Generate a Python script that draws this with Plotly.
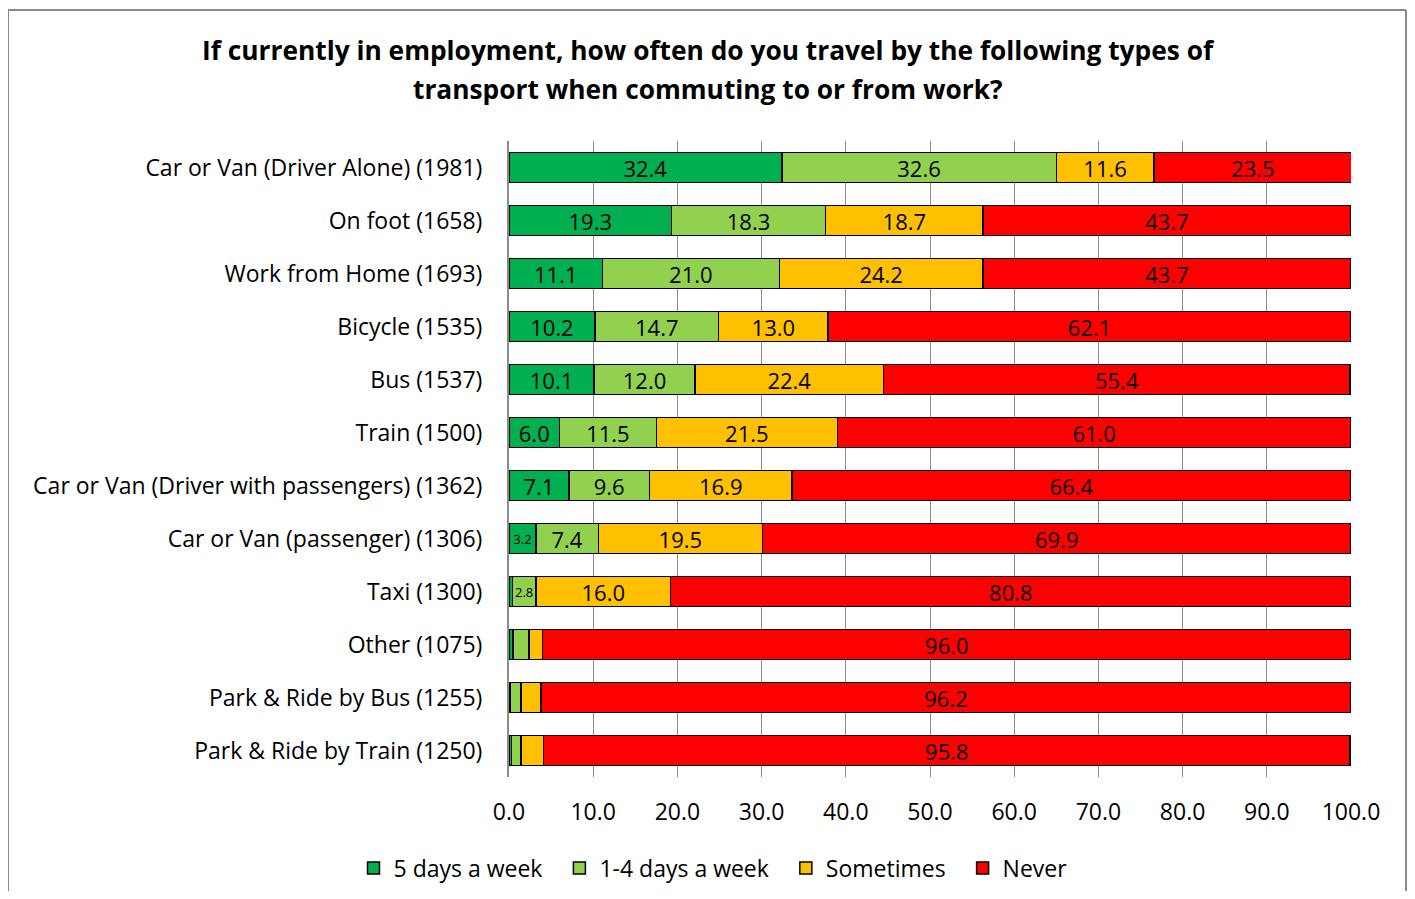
import plotly.graph_objects as go

categories = ["Car or Van (Driver Alone) (1981)", "On foot (1658)", "Work from Home (1693)",
              "Bicycle (1535)", "Bus (1537)", "Train (1500)",
              "Car or Van (Driver with passengers) (1362)", "Car or Van (passenger) (1306)",
              "Taxi (1300)", "Other (1075)", "Park & Ride by Bus (1255)", "Park & Ride by Train (1250)"]
five_days = [32.4, 19.3, 11.1, 10.2, 10.1, 6.0, 7.1, 3.2, 0.4, 0.5, 0.2, 0.3]
one_four_days = [32.6, 18.3, 21.0, 14.7, 12.0, 11.5, 9.6, 7.4, 2.8, 1.9, 1.2, 1.1]
sometimes = [11.6, 18.7, 24.2, 13.0, 22.4, 21.5, 16.9, 19.5, 16.0, 1.6, 2.4, 2.7]
never = [23.5, 43.7, 43.7, 62.1, 55.4, 61.0, 66.4, 69.9, 80.8, 96.0, 96.2, 95.8]
x_ticks = [0, 10, 20, 30, 40, 50, 60, 70, 80, 90, 100]

NB = "\u00a0"
series = [("5 days a week" + NB * 2, five_days, "#00B050"),
          ("1-4 days a week" + NB * 2, one_four_days, "#92D050"),
          ("Sometimes" + NB * 2, sometimes, "#FFC000"),
          ("Never", never, "#FF0000")]

FONT = "Open Sans"
# figure kept inside viewport (page body has 8px margin)
W, H = 1399, 883
# plot area in figure pixels
L, R, T, B = 501, 1343, 133, 769


def px(fx):
    return (fx - L) / (R - L)


def py(fy):
    return (B - fy) / (B - T)


fig = go.Figure()
for name, vals, col in series:
    texts = [f"{v:.1f}" if v >= 2.8 else "" for v in vals]
    sizes = [13 if v < 5 else 22 for v in vals]
    fig.add_trace(go.Bar(
        y=categories, x=vals, name=name, orientation="h",
        marker=dict(color=col, line=dict(color="black", width=1.5)),
        text=texts, texttemplate="%{text}", textposition="inside",
        insidetextanchor="middle", textangle=0, constraintext="none",
        textfont=dict(family=FONT, size=sizes, color="black"),
        hoverinfo="x+y+name",
    ))

fig.update_layout(
    barmode="stack", bargap=0.43,
    width=W, height=H,
    margin=dict(l=L, r=W - R, t=T, b=H - B, autoexpand=False),
    paper_bgcolor="white", plot_bgcolor="white",
    font=dict(family=FONT, size=20, color="black"),
    showlegend=True,
    legend=dict(orientation="h", x=px(705), xanchor="center", y=py(860), yanchor="middle",
                traceorder="normal", font=dict(family=FONT, size=23),
                itemwidth=30),
    xaxis=dict(range=[0, 100], tickvals=x_ticks, tickformat=".1f",
               showgrid=True, gridcolor="#8C8C8C", gridwidth=1,
               zeroline=False, showline=False, automargin=False,
               ticks="", tickfont=dict(family=FONT, size=23), ticklabelstandoff=19),
    yaxis=dict(autorange="reversed", showgrid=False, showline=True, automargin=False,
               linecolor="#8C8C8C", linewidth=2, ticks="",
               tickfont=dict(family=FONT, size=23), ticklabelstandoff=20),
)

title_lines = ["If currently in employment, how often do you travel by the following types of",
               "transport when commuting to or from work?"]
for line, fy in zip(title_lines, [42, 81]):
    fig.add_annotation(text=f"<b>{line}</b>", xref="paper", yref="paper",
                       x=px(700), y=py(fy), xanchor="center", yanchor="middle",
                       showarrow=False, font=dict(family=FONT, size=26.3, color="black"))

# outer chart border
border = dict(color="#898989", width=2)
fig.add_shape(type="line", xref="paper", yref="paper", x0=px(0), x1=px(0),
              y0=py(H + 5), y1=py(2), line=border)
fig.add_shape(type="line", xref="paper", yref="paper", x0=px(W - 1), x1=px(W - 1),
              y0=py(H + 5), y1=py(2), line=border)
fig.add_shape(type="line", xref="paper", yref="paper", x0=px(0), x1=px(W - 1),
              y0=py(2), y1=py(2), line=border)

fig.write_html("out.html")
